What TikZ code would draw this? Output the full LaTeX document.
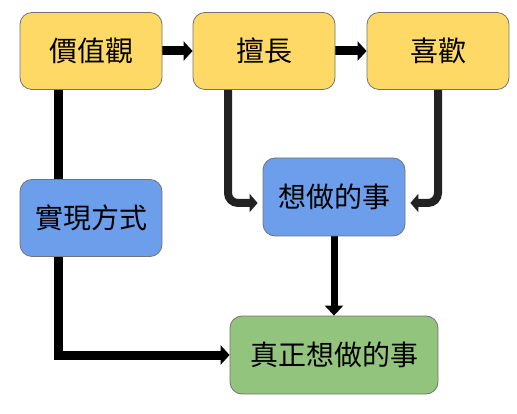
\documentclass[tikz,border=0pt]{standalone}
\usepackage{fontspec}
\newfontfamily\cjk{Noto Sans CJK TC}
\usetikzlibrary{arrows.meta,backgrounds}
\definecolor{boxyellow}{HTML}{FFD966}
\definecolor{boxblue}{HTML}{6D9EEB}
\definecolor{boxgreen}{HTML}{93C47D}
\definecolor{linkgray}{HTML}{222222}
\begin{document}
\begin{tikzpicture}[x=1pt, y=-1pt,
    box/.style={draw=black!55, line width=0.8pt, rounded corners=12pt, minimum width=142pt, minimum height=77pt, inner sep=0pt, font=\cjk\fontsize{28}{32}\selectfont},
    mainlink/.style={line width=9pt, -{Triangle[width=19pt,length=9pt]}},
    sidelink/.style={line width=8pt, draw=linkgray, rounded corners=10pt, shorten >=5pt, -{Triangle[width=18pt,length=8pt]}}]
    \useasboundingbox (0,0) rectangle (517,414);
    % top row
    \node[box, fill=boxyellow] (values) at (91,51) {價值觀};
    \node[box, fill=boxyellow] (skill) at (264,51) {擅長};
    \node[box, fill=boxyellow] (like) at (438,51) {喜歡};
    % middle
    \node[box, fill=boxblue] (way) at (91,218) {實現方式};
    \node[box, fill=boxblue, minimum height=78pt] (want) at (334,197) {想做的事};
    % result
    \node[box, fill=boxgreen, minimum width=208pt, minimum height=78pt] (goal) at (334,355) {真正想做的事};
    \begin{scope}[on background layer]
        \draw[mainlink] (values.east) -- (skill.west);
        \draw[mainlink] (skill.east) -- (like.west);
        \draw[mainlink] ([xshift=-33pt]values.south) |- (goal.west);
        \draw[sidelink] ([xshift=-36pt]skill.south) |- ([yshift=-6pt]want.west);
        \draw[sidelink] (like.south) |- ([yshift=-6pt]want.east);
        \draw[line width=7pt, -{Triangle[width=18pt,length=10pt]}] (want.south) -- (goal.north);
    \end{scope}
\end{tikzpicture}
\end{document}
